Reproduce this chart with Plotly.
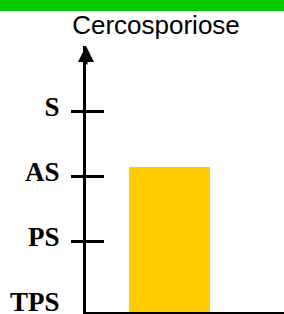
import plotly.graph_objects as go

# ---- data ----
categories = ["Cercosporiose"]
severity = [2.14]
level_labels = ["TPS", "PS", "AS", "S"]
level_values = [0, 1, 2, 3]

# ---- layout constants ----
W, H = 284, 314
ML, MR, MT, MB = 86, 0, 46, 2
PW, PH = W - ML - MR, H - MT - MB
y_lo, y_hi = -0.092, 4.0

fig = go.Figure()
fig.add_trace(go.Bar(
    x=categories, y=[v - y_lo for v in severity], base=y_lo, width=0.8,
    marker=dict(color="#FFCC00", line=dict(width=0)),
    showlegend=False, hoverinfo="skip",
))
# invisible companion trace so the tick-mark axis is drawn
fig.add_trace(go.Scatter(x=categories, y=severity, yaxis="y2", mode="none",
                         showlegend=False, hoverinfo="skip"))

fig.update_layout(
    width=W, height=H,
    margin=dict(l=ML, r=MR, t=MT, b=MB, pad=0, autoexpand=False),
    paper_bgcolor="white", plot_bgcolor="white",
    title=dict(text="Cercosporiose",
               font=dict(family="Liberation Sans, Arial", size=26, color="black"),
               x=156 / W, xref="container", xanchor="center",
               y=1 - 25 / H, yref="container", yanchor="middle",
               automargin=False),
    xaxis=dict(type="category", range=[-0.825, 1.131], showline=True,
               linecolor="black", linewidth=2, showticklabels=False, ticks="",
               showgrid=False, zeroline=False, fixedrange=True, automargin=False),
    yaxis=dict(range=[y_lo, y_hi], tickmode="array", tickvals=level_values,
               ticktext=level_labels, ticks="", showline=True, linecolor="black",
               linewidth=3, showgrid=False, zeroline=False,
               tickfont=dict(family="Liberation Serif, Times New Roman", size=27,
                             color="black", weight="bold"),
               ticklabelstandoff=18, ticklabelshift=-4,
               ticklabeloverflow="allow", automargin=False, fixedrange=True),
    yaxis2=dict(overlaying="y", anchor="free", side="left",
                position=(104 - ML) / PW, range=[y_lo, y_hi], tickmode="array",
                tickvals=level_values[1:], ticks="outside", ticklen=33,
                tickwidth=3, tickcolor="black", showticklabels=False,
                showline=False, showgrid=False, zeroline=False,
                automargin=False, fixedrange=True),
    shapes=[dict(type="rect", xref="paper", yref="paper",
                 x0=-ML / PW, x1=1 + MR / PW,
                 y0=1 + (MT - 11) / PH, y1=1 + MT / PH,
                 fillcolor="#00CC00", line=dict(width=0), layer="below")],
    annotations=[dict(x=0, y=1, xref="x domain", yref="y domain", text="",
                      showarrow=True, ax=0, ay=20, arrowhead=2,
                      arrowsize=16 / 15, arrowwidth=3, arrowcolor="black")],
)

page_fix = (
    "document.documentElement.style.overflow='hidden';"
    "document.body.style.margin='0px';"
    "document.body.style.overflow='hidden';"
    "document.querySelectorAll('.plotly-graph-div, .svg-container, .main-svg')"
    ".forEach(function(e){e.style.overflow='hidden';});"
)
fig.write_html("out.html", config={"displayModeBar": False}, post_script=page_fix)
